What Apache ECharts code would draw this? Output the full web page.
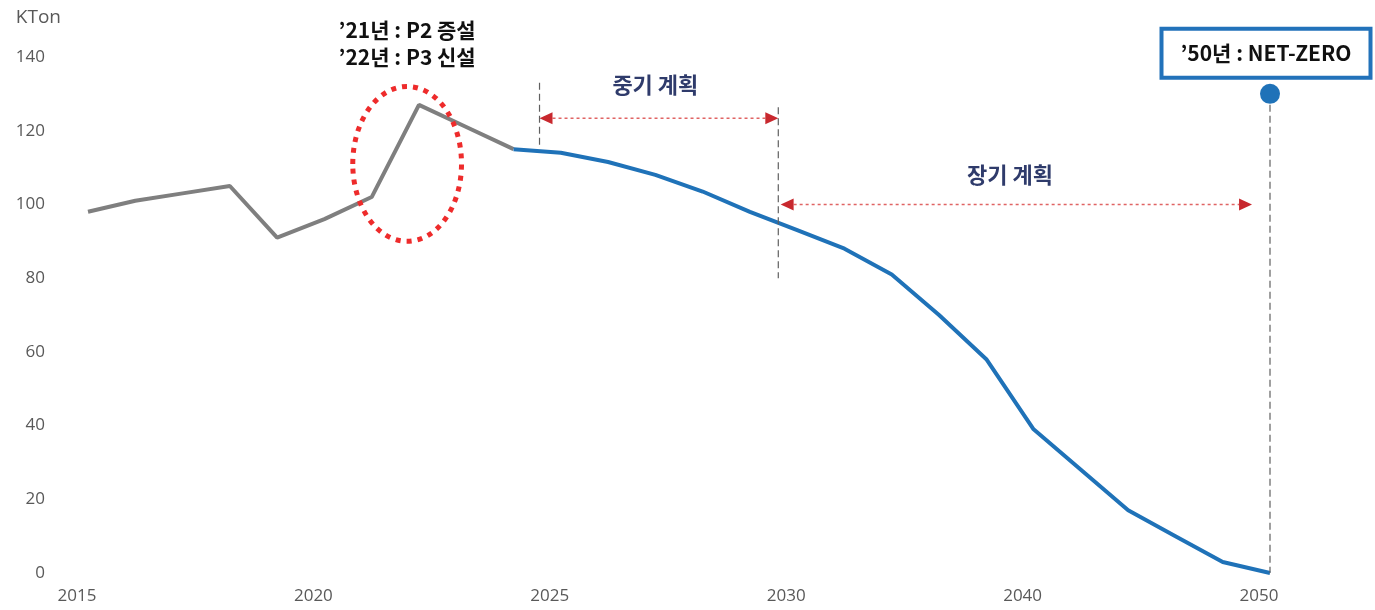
<!DOCTYPE html>
<html><head><meta charset="utf-8">
<script src="https://cdn.jsdelivr.net/npm/echarts@6/dist/echarts.min.js"></script>
<style>html,body{margin:0;padding:0;background:#fff}#c{width:1375px;height:610px}</style>
</head><body><div id="c"></div>
<script>
// ---- data ----
const years = ['2015','2016','2017','2018','2019','2020','2021','2022','2023','2024','2025','2026','2027','2028','2029','2030','2032','2034','2036','2038','2040','2042','2044','2046','2048','2050'];
const actual = [98, 101, 103, 105, 91, 96, 102, 127, 121, 115];
const planStartIndex = 9;
const plan = [115, 114, 111.5, 108, 103.5, 98, 93, 88, 81, 70, 58, 39, 28, 17, 10, 3, 0];
const netZero = ['2050', 130];
const yMin = 0, yMax = 140, yStep = 20;

// annotation anchors (category index, value)
const midStartIdx = 9.55, midEndIdx = 14.6, midArrowVal = 123.4;
const longStartIdx = 14.65, longEndIdx = 24.62, longArrowVal = 100;

const grayData = years.map((y, i) => i < actual.length ? actual[i] : null);
const blueData = years.map((y, i) => i >= planStartIndex ? plan[i - planStartIndex] : null);

const chart = echarts.init(document.getElementById('c'));
const axisColor = '#595959';
const baseFont = '"Open Sans", "Noto Sans", sans-serif';
const krFont = '"Noto Sans CJK KR", "Noto Sans", sans-serif';

chart.setOption({
  animation: false,
  grid: { left: 88, right: 105, top: 57, bottom: 37 },
  xAxis: {
    type: 'category', data: years, boundaryGap: false,
    axisLine: { show: false }, axisTick: { show: false }, splitLine: { show: false },
    axisLabel: { interval: 4, color: axisColor, fontSize: 17, fontFamily: baseFont, margin: 15, padding: [0, 22, 0, 0] }
  },
  yAxis: {
    type: 'value', min: yMin, max: yMax, interval: yStep,
    name: 'KTon', nameLocation: 'end', nameGap: 30,
    nameTextStyle: { color: axisColor, fontSize: 19, fontFamily: baseFont, align: 'right', padding: [0, 27, 0, 0] },
    axisLine: { show: false }, axisTick: { show: false }, splitLine: { show: false },
    axisLabel: { color: axisColor, fontSize: 17, fontFamily: baseFont, margin: 43 }
  },
  series: [
    { type: 'line', data: grayData, symbol: 'none', lineStyle: { color: '#7f7f7f', width: 4 }, z: 3 },
    { type: 'line', data: blueData, symbol: 'none', lineStyle: { color: '#1f72b8', width: 4 }, z: 4 },
    { type: 'scatter', data: [netZero], symbolSize: 20, itemStyle: { color: '#1f72b8', opacity: 1 }, z: 6 }
  ]
});

function px(idx, val) {
  const i0 = Math.floor(idx), i1 = Math.min(Math.ceil(idx), years.length - 1);
  const p0 = chart.convertToPixel({ gridIndex: 0 }, [i0, val]);
  const p1 = chart.convertToPixel({ gridIndex: 0 }, [i1, val]);
  const t = idx - i0;
  return [p0[0] + (p1[0] - p0[0]) * t, p0[1]];
}

function vline(idx, v0, v1) {
  const a = px(idx, v0), b = px(idx, v1);
  return { type: 'line', shape: { x1: a[0], y1: a[1], x2: b[0], y2: b[1] },
    style: { stroke: '#606060', lineWidth: 1.2, lineDash: [7, 4] }, z: 10 };
}
function arrow(i0, i1, val) {
  const a = px(i0, val), b = px(i1, val);
  const h = 6, L = 13, col = '#c8282e';
  return [
    { type: 'line', shape: { x1: a[0] + L, y1: a[1], x2: b[0] - L, y2: b[1] },
      style: { stroke: '#e06464', lineWidth: 1.6, lineDash: [3, 3] }, z: 10 },
    { type: 'polygon', shape: { points: [[a[0], a[1]], [a[0] + L, a[1] - h], [a[0] + L, a[1] + h]] }, style: { fill: col }, z: 11 },
    { type: 'polygon', shape: { points: [[b[0], b[1]], [b[0] - L, b[1] - h], [b[0] - L, b[1] + h]] }, style: { fill: col }, z: 11 }
  ];
}
function label(idx, val, text, color, size) {
  const p = px(idx, val);
  return { type: 'text', x: p[0], y: p[1], z: 12,
    style: { text, fill: color, font: 'bold ' + size + 'px ' + krFont, textAlign: 'center', textVerticalAlign: 'middle' } };
}

const nz = px(years.indexOf(netZero[0]), netZero[1]);
const zeroP = px(years.indexOf(netZero[0]), 0);
const ellC = px(6.75, 111);
const ellR = px(7.9, 132);

const g = [];
g.push(vline(midStartIdx, 133, 116));
g.push(vline(midEndIdx, 126.4, 80));
g.push({ type: 'line', shape: { x1: nz[0], y1: nz[1], x2: zeroP[0], y2: zeroP[1] },
  style: { stroke: '#606060', lineWidth: 1.2, lineDash: [7, 4] }, z: 5 });
g.push(...arrow(midStartIdx, midEndIdx, midArrowVal));
g.push(...arrow(longStartIdx, longEndIdx, longArrowVal));
g.push(label(12.0, 132.4, '중기 계획', '#2f3b6b', 22));
g.push(label(19.5, 108, '장기 계획', '#2f3b6b', 22));
g.push(label(6.75, 147.3, '’21년 : P2 증설', '#111111', 21));
g.push(label(6.75, 140, '’22년 : P3 신설', '#111111', 21));
g.push({ type: 'ellipse', shape: { cx: ellC[0], cy: ellC[1], rx: ellR[0] - ellC[0], ry: ellC[1] - ellR[1] },
  style: { fill: 'none', stroke: '#ee2b2b', lineWidth: 5, lineDash: [5, 6] }, z: 9 });
// NET-ZERO box above the marker
const bw = 209, bh = 49, bcx = nz[0] - 4, bBottom = nz[1] - 16;
g.push({ type: 'rect', shape: { x: bcx - bw / 2, y: bBottom - bh, width: bw, height: bh },
  style: { fill: '#ffffff', stroke: '#2272ba', lineWidth: 4 }, z: 12 });
g.push({ type: 'text', x: bcx, y: bBottom - bh / 2, z: 13,
  style: { text: '’50년 : NET-ZERO', fill: '#111111', font: 'bold 21px ' + krFont, textAlign: 'center', textVerticalAlign: 'middle' } });

chart.setOption({ graphic: g });
</script>
</body></html>
